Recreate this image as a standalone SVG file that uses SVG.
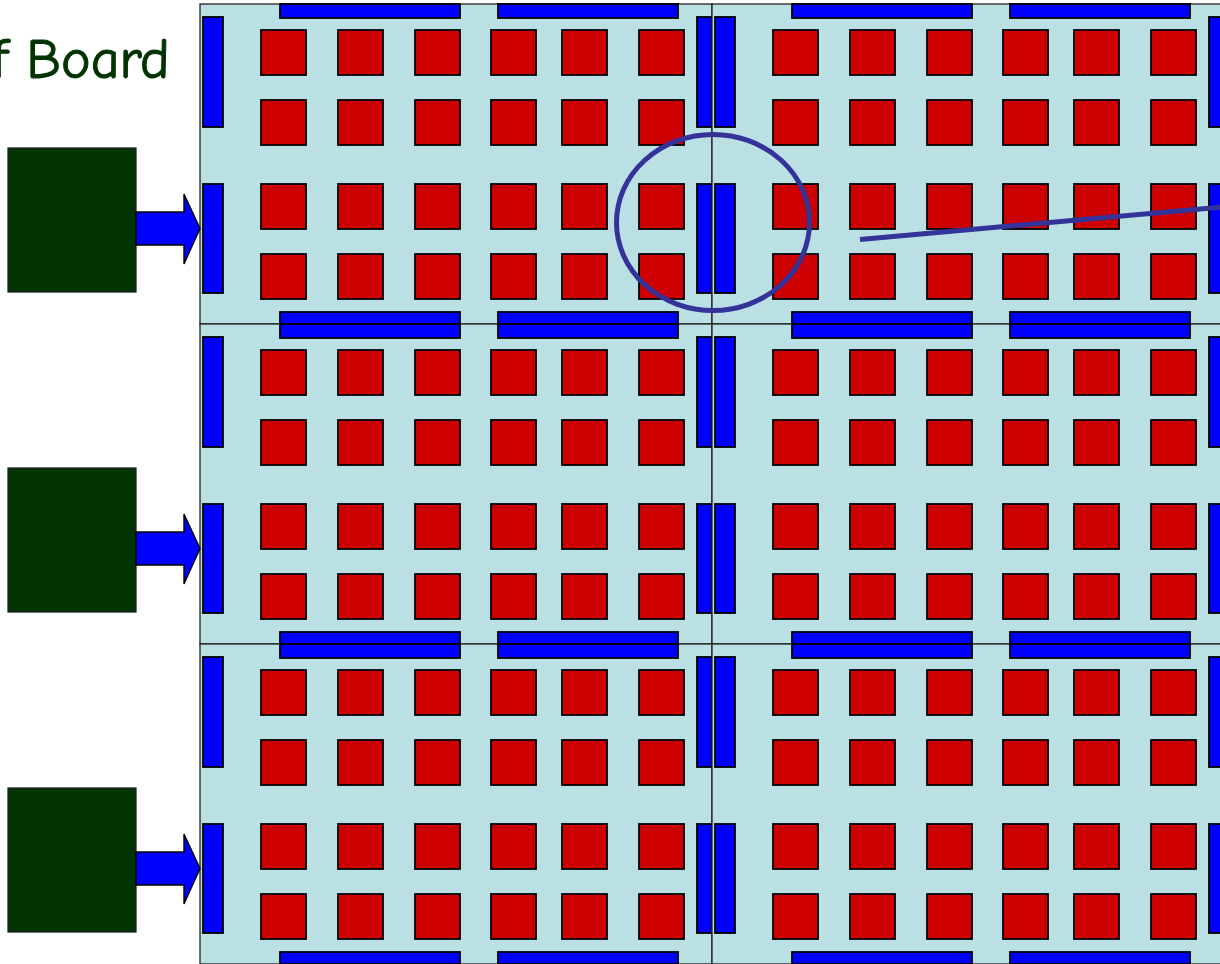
<svg xmlns="http://www.w3.org/2000/svg" xmlns:xlink="http://www.w3.org/1999/xlink" width="1220" height="964" viewBox="0 0 1220 964">
<style>
.bg{fill:#BBE0E3;stroke:#222;stroke-width:1.3}
.sq{fill:#CC0000;stroke:#000;stroke-width:1.8}
.bar{fill:#0000FF;stroke:#000;stroke-width:1.8}
.src{fill:#003300;stroke:#222;stroke-width:1.3}
.arr{fill:#0000FF;stroke:#000;stroke-width:1.4;stroke-linejoin:miter}
.ring{fill:none;stroke:#333399;stroke-width:5}
.title{font-family:"Comic Neue","DejaVu Sans","Liberation Sans",sans-serif;font-size:56px;fill:#003300;stroke:#003300;stroke-width:1}
</style>
<defs>
<g id="tile">
<rect class="bg" x="0" y="0" width="512" height="320"/>
<rect class="bar" x="80" y="0" width="180" height="14"/>
<rect class="bar" x="298" y="0" width="180" height="14"/>
<rect class="bar" x="80" y="308" width="180" height="12"/>
<rect class="bar" x="298" y="308" width="180" height="12"/>
<rect class="bar" x="3" y="13" width="20" height="110"/>
<rect class="bar" x="3" y="180" width="20" height="109"/>
<rect class="bar" x="497" y="13" width="15" height="110"/>
<rect class="bar" x="497" y="180" width="15" height="109"/>
<g id="sqrow">
<rect class="sq" x="61" y="26" width="45" height="45"/>
<rect class="sq" x="138" y="26" width="45" height="45"/>
<rect class="sq" x="215" y="26" width="45" height="45"/>
<rect class="sq" x="291" y="26" width="45" height="45"/>
<rect class="sq" x="362" y="26" width="45" height="45"/>
<rect class="sq" x="439" y="26" width="45" height="45"/>
</g>
<use xlink:href="#sqrow" y="70"/>
<use xlink:href="#sqrow" y="154"/>
<use xlink:href="#sqrow" y="224"/>
</g>
<g id="src">
<rect class="src" x="8" y="0" width="128" height="144"/>
<polygon class="arr" points="136,64 184,64 184,46 200,80.5 184,116 184,97 136,97"/>
</g>
</defs>
<text class="title" x="-8" y="78">f Board</text>
<g id="board">
<use id="tile-1-1" xlink:href="#tile" x="200" y="4"/>
<use id="tile-1-2" xlink:href="#tile" x="712" y="4"/>
<use id="tile-2-1" xlink:href="#tile" x="200" y="324"/>
<use id="tile-2-2" xlink:href="#tile" x="712" y="324"/>
<use id="tile-3-1" xlink:href="#tile" x="200" y="644"/>
<use id="tile-3-2" xlink:href="#tile" x="712" y="644"/>
</g>
<g id="source-1"><use xlink:href="#src" y="148"/></g>
<g id="source-2"><use xlink:href="#src" y="468"/></g>
<g id="source-3"><use xlink:href="#src" y="788"/></g>
<g id="connectors">
<ellipse class="ring" cx="713" cy="222.5" rx="96.5" ry="88"/>
<line x1="860" y1="239.5" x2="1222" y2="207" stroke="#333399" stroke-width="5"/>
</g>
</svg>
